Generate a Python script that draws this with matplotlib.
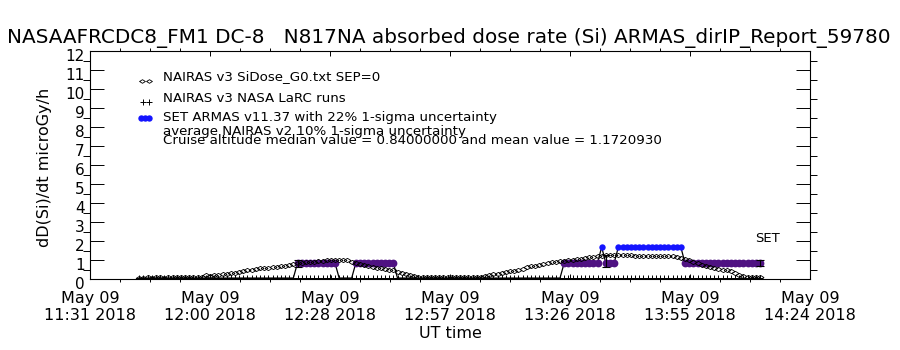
import matplotlib
matplotlib.use("Agg")
import matplotlib.pyplot as plt
import matplotlib.dates as mdates
import matplotlib.transforms as mtransforms
import numpy as np
import pandas as pd

# 1-minute samples along the flight, starting 11:43 UT
sample_start = "2018-05-09 11:43"
n_samples = 150

# NAIRAS v3 SiDose_G0 model (diamonds), microGy/h
nairas_dose = [
    0.07, 0.07, 0.08, 0.07, 0.08, 0.08, 0.07, 0.08, 0.08, 0.08,
    0.09, 0.08, 0.09, 0.09, 0.10, 0.12, 0.20, 0.18, 0.20, 0.22,
    0.25, 0.28, 0.31, 0.34, 0.38, 0.42, 0.46, 0.50, 0.53, 0.56,
    0.59, 0.60, 0.62, 0.64, 0.67, 0.70, 0.75, 0.80, 0.84, 0.86,
    0.88, 0.90, 0.92, 0.94, 0.96, 0.98, 1.00, 1.00, 1.00, 1.00,
    0.98, 0.92, 0.86, 0.80, 0.75, 0.70, 0.65, 0.60, 0.56, 0.53,
    0.50, 0.45, 0.38, 0.30, 0.25, 0.20, 0.16, 0.13, 0.11, 0.10,
    0.09, 0.09, 0.08, 0.08, 0.08, 0.08, 0.09, 0.09, 0.09, 0.10,
    0.10, 0.10, 0.12, 0.16, 0.20, 0.24, 0.28, 0.32, 0.36, 0.40,
    0.44, 0.48, 0.55, 0.62, 0.66, 0.70, 0.74, 0.78, 0.84, 0.88,
    0.92, 0.95, 0.97, 0.99, 1.01, 1.03, 1.06, 1.10, 1.14, 1.18,
    1.20, 1.22, 1.24, 1.25, 1.25, 1.25, 1.24, 1.24, 1.24, 1.23,
    1.23, 1.23, 1.22, 1.22, 1.22, 1.21, 1.21, 1.21, 1.20, 1.18,
    1.12, 1.05, 0.98, 0.90, 0.82, 0.75, 0.70, 0.65, 0.60, 0.55,
    0.50, 0.45, 0.40, 0.32, 0.22, 0.15, 0.12, 0.10, 0.10, 0.10,
]

# NAIRAS v3 NASA LaRC runs (plus signs), near zero all along
larc_dose = [
    0.05, 0.05, 0.05, 0.05, 0.05, 0.05, 0.05, 0.05, 0.05, 0.05,
    0.05, 0.05, 0.05, 0.05, 0.05, 0.05, 0.05, 0.05, 0.05, 0.05,
    0.05, 0.05, 0.05, 0.05, 0.05, 0.05, 0.05, 0.05, 0.05, 0.05,
    0.05, 0.05, 0.05, 0.05, 0.05, 0.05, 0.05, 0.05, 0.05, 0.05,
    0.05, 0.05, 0.05, 0.05, 0.05, 0.05, 0.05, 0.05, 0.05, 0.05,
    0.05, 0.05, 0.05, 0.05, 0.05, 0.05, 0.05, 0.05, 0.05, 0.05,
    0.05, 0.05, 0.05, 0.05, 0.05, 0.05, 0.05, 0.05, 0.05, 0.05,
    0.05, 0.05, 0.05, 0.05, 0.05, 0.05, 0.05, 0.05, 0.05, 0.05,
    0.05, 0.05, 0.05, 0.05, 0.05, 0.05, 0.05, 0.05, 0.05, 0.05,
    0.05, 0.05, 0.05, 0.05, 0.05, 0.05, 0.05, 0.05, 0.05, 0.05,
    0.05, 0.05, 0.05, 0.05, 0.05, 0.05, 0.05, 0.05, 0.05, 0.05,
    0.05, 0.05, 0.05, 0.05, 0.05, 0.05, 0.05, 0.05, 0.05, 0.05,
    0.05, 0.05, 0.05, 0.05, 0.05, 0.05, 0.05, 0.05, 0.05, 0.05,
    0.05, 0.05, 0.05, 0.05, 0.05, 0.05, 0.05, 0.05, 0.05, 0.05,
    0.05, 0.05, 0.05, 0.05, 0.05, 0.05, 0.05, 0.05, 0.05, 0.05,
]

# SET ARMAS v11.37 measurements
armas_dose = [
    0.05, 0.05, 0.05, 0.05, 0.05, 0.05, 0.05, 0.05, 0.05, 0.05,
    0.05, 0.05, 0.05, 0.05, 0.05, 0.05, 0.05, 0.05, 0.05, 0.05,
    0.05, 0.05, 0.05, 0.05, 0.05, 0.05, 0.05, 0.05, 0.05, 0.05,
    0.05, 0.05, 0.05, 0.05, 0.05, 0.05, 0.05, 0.05, 0.84, 0.84,
    0.84, 0.84, 0.84, 0.84, 0.84, 0.84, 0.84, 0.84, 0.05, 0.05,
    0.05, 0.05, 0.84, 0.84, 0.84, 0.84, 0.84, 0.84, 0.84, 0.84,
    0.84, 0.84, 0.05, 0.05, 0.05, 0.05, 0.05, 0.05, 0.05, 0.05,
    0.05, 0.05, 0.05, 0.05, 0.05, 0.05, 0.05, 0.05, 0.05, 0.05,
    0.05, 0.05, 0.05, 0.05, 0.05, 0.05, 0.05, 0.05, 0.05, 0.05,
    0.05, 0.05, 0.05, 0.05, 0.05, 0.05, 0.05, 0.05, 0.05, 0.05,
    0.05, 0.05, 0.84, 0.84, 0.84, 0.84, 0.84, 0.84, 0.84, 0.84,
    0.84, 1.68, 0.84, 0.84, 0.84, 1.68, 1.68, 1.68, 1.68, 1.68,
    1.68, 1.68, 1.68, 1.68, 1.68, 1.68, 1.68, 1.68, 1.68, 1.68,
    1.68, 0.84, 0.84, 0.84, 0.84, 0.84, 0.84, 0.84, 0.84, 0.84,
    0.84, 0.84, 0.84, 0.84, 0.84, 0.84, 0.84, 0.84, 0.84, 0.84,
]

# a few points with 1-sigma error bars
err_time = ["2018-05-09 12:21", "2018-05-09 13:35", "2018-05-09 14:12"]
err_dose = [0.82, 0.95, 0.84]
err_sigma = [0.18, 0.30, 0.15]

axis_start = "2018-05-09 11:31:12"
axis_end = "2018-05-09 14:24:00"

title = "NASAAFRCDC8_FM1 DC-8   N817NA absorbed dose rate (Si) ARMAS_dirIP_Report_59780"
legend_lines = [
    "NAIRAS v3 SiDose_G0.txt SEP=0",
    "NAIRAS v3 NASA LaRC runs",
    "SET ARMAS v11.37 with 22% 1-sigma uncertainty",
    "average NAIRAS v2 10% 1-sigma uncertainty",
    "Cruise altitude median value = 0.84000000 and mean value = 1.1720930",
]

PURPLE = "#4f1282"
BLUE = "#1414ff"

times = pd.date_range(sample_start, periods=n_samples, freq="1min")
armas = np.array(armas_dose)
cruise = armas > 0.5
high = armas > 1.5

W, H = 900, 350
fig = plt.figure(figsize=(9, 3.5), dpi=100)
ax = fig.add_axes([90 / W, 1 - 279 / H, 720 / W, 228 / H])

diamond = [(-1, 0), (0, 0.62), (1, 0), (0, -0.62), (-1, 0)]

# ARMAS trace + markers
ax.plot(times, armas, color="k", lw=0.9, zorder=2)
ax.plot(times, larc_dose, ls="none", marker="+", ms=4.5, mew=0.7, color="k", zorder=2)
ax.plot(times[cruise & ~high], armas[cruise & ~high], ls="none", marker="o",
        ms=5.6, mew=0, color=PURPLE, zorder=3)
ax.plot(times[high], armas[high], ls="none", marker="o", ms=4.6, mew=0,
        color=BLUE, zorder=3)
ax.plot(times, nairas_dose, ls="none", marker=diamond, ms=5, mew=0.6,
        mfc="none", mec="k", zorder=4)
ax.errorbar(pd.to_datetime(err_time), err_dose, yerr=err_sigma, fmt="none",
            ecolor="k", elinewidth=0.8, capsize=3, capthick=0.8, zorder=5)

ax.set_xlim(pd.Timestamp(axis_start), pd.Timestamp(axis_end))
ax.set_ylim(0, 12)
ax.set_xticks(pd.date_range(axis_start, axis_end, periods=7))
ax.set_xticks(pd.date_range(axis_start, axis_end, periods=25), minor=True)
ax.xaxis.set_major_formatter(mdates.DateFormatter("%b %d\n%H:%M %Y"))
ax.set_yticks(range(0, 13))
ax.set_yticks(np.arange(0, 12.01, 0.5), minor=True)

ax.tick_params(axis="both", direction="in", top=True, right=True,
               width=0.7, color="k")
ax.tick_params(axis="y", which="major", length=10.4, pad=4, labelsize=11)
ax.tick_params(axis="y", which="minor", length=5.2, width=0.7, right=True)
ax.tick_params(axis="x", which="major", length=3.4, pad=9, labelsize=11.5)
ax.tick_params(axis="x", which="minor", length=2.2, width=0.7, top=True)
for tk in ax.xaxis.get_major_ticks():
    tk.label1.set_linespacing(1.1)
# IDL draws the y labels slightly below their ticks
shift = mtransforms.ScaledTranslation(0, -4 / 100, fig.dpi_scale_trans)
for lbl in ax.get_yticklabels():
    lbl.set_transform(lbl.get_transform() + shift)
for sp in ax.spines.values():
    sp.set_linewidth(0.8)

fig.text(449 / W, 1 - 43 / H, title, ha="center", va="baseline", fontsize=14.4)
fig.text(45 / W, 1 - 167 / H, "dD(Si)/dt microGy/h", rotation=90,
         ha="center", va="center", fontsize=11.5)
fig.text(450 / W, 1 - 333 / H, "UT time", ha="center", va="center", fontsize=11.5)

# hand-drawn legend in axes fraction
def ax_xy(px, py):
    return (px - 90) / 720, (279 - py) / 228

text_y = [77, 99, 117, 131, 141]
for line, py in zip(legend_lines, text_y):
    tx, ty = ax_xy(163, py)
    ax.text(tx, ty, line, transform=ax.transAxes, ha="left", va="center",
            fontsize=9.6)

lx = [ax_xy(142, 81)[0], ax_xy(149, 81)[0]]
ax.plot(lx, [ax_xy(0, 81)[1]] * 2, ls="none", marker=diamond, ms=4.2,
        mew=0.6, mfc="none", mec="k", transform=ax.transAxes, clip_on=False)
lx = [ax_xy(143, 102)[0], ax_xy(149, 102)[0]]
ax.plot(lx, [ax_xy(0, 102)[1]] * 2, ls="none", marker="+", ms=5, mew=0.7,
        color="k", transform=ax.transAxes, clip_on=False)
lx = [ax_xy(141, 118)[0], ax_xy(145, 118)[0], ax_xy(149, 118)[0]]
ax.plot(lx, [ax_xy(0, 118)[1]] * 3, ls="none", marker="o", ms=4.6, mew=0,
        color=BLUE, transform=ax.transAxes, clip_on=False)

sx, sy = ax_xy(755, 238)
ax.text(sx, sy, "SET", transform=ax.transAxes, ha="left", va="center", fontsize=9.5)

fig.savefig("out.png", dpi=100)
